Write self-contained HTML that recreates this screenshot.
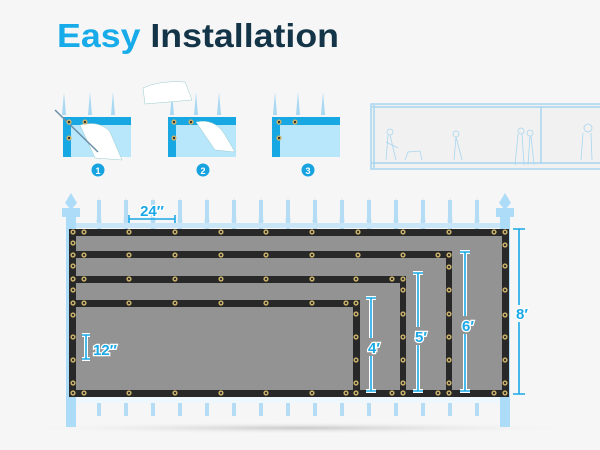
<!DOCTYPE html>
<html><head><meta charset="utf-8"><style>
html,body{margin:0;padding:0;background:#f6f6f6;width:600px;height:450px;overflow:hidden}
svg{display:block}
</style></head><body>
<svg width="600" height="450" viewBox="0 0 600 450" xmlns="http://www.w3.org/2000/svg">
<defs>
<g id="gr"><circle r="2.6" fill="#c9b06a"/><circle r="1.1" fill="#2a2a2a"/></g>
<g id="pk"><polygon points="-2.5,222 0,197 2.5,222" fill="#b5dcf5"/></g>
<radialGradient id="sh" cx="0.5" cy="0.5" r="0.5"><stop offset="0" stop-color="#c8c8c8"/><stop offset="1" stop-color="#f6f6f6" stop-opacity="0"/></radialGradient>
</defs>
<rect width="600" height="450" fill="#f6f6f6"/>
<text x="57" y="47" font-family="Liberation Sans, sans-serif" font-weight="bold" font-size="33" textLength="282" lengthAdjust="spacingAndGlyphs"><tspan fill="#17ace9">Easy</tspan><tspan fill="#143548"> Installation</tspan></text>

<!-- step icons -->
<g>
 <g fill="#a9d8f3"><polygon points="88,115 90,92 92,115"/><polygon points="62,115 64,92 66,115"/><polygon points="111,115 113,92 115,115"/></g>
 <rect x="63" y="117" width="68" height="40" fill="#b8e6fb"/><rect x="63" y="117" width="68" height="8" fill="#17a7e3"/><rect x="63" y="117" width="8" height="40" fill="#17a7e3"/>
 <path d="M80,125 Q100,120 110,132 L122,160 L95,158 Z" fill="#fff" stroke="#9cc" stroke-width=".5"/>
 <line x1="55" y1="110" x2="98" y2="152" stroke="#6b8fa8" stroke-width="1.5"/>
 <use href="#gr" x="69" y="122"/><use href="#gr" x="85" y="122"/><use href="#gr" x="69" y="138"/>
 <circle cx="98" cy="170" r="6.5" fill="#17a3e0"/><text x="98" y="174" font-family="Liberation Sans" font-weight="bold" font-size="9" fill="#fff" text-anchor="middle">1</text>
</g>
<g>
 <g fill="#a9d8f3"><polygon points="170,115 172,92 174,115"/><polygon points="194,115 196,92 198,115"/><polygon points="217,115 219,92 221,115"/></g>
 <rect x="168" y="117" width="68" height="40" fill="#b8e6fb"/><rect x="168" y="117" width="68" height="8" fill="#17a7e3"/><rect x="168" y="117" width="8" height="40" fill="#17a7e3"/>
 <path d="M143,88 Q160,80 185,82 L192,100 L145,104 Z" fill="#fff" stroke="#9cc" stroke-width=".5"/>
 <path d="M196,122 Q215,118 225,135 L235,152 L215,150 Z" fill="#fff" stroke="#9cc" stroke-width=".5"/>
 <use href="#gr" x="174" y="122"/><use href="#gr" x="191" y="122"/><use href="#gr" x="174" y="138"/>
 <circle cx="203" cy="170" r="6.5" fill="#17a3e0"/><text x="203" y="174" font-family="Liberation Sans" font-weight="bold" font-size="9" fill="#fff" text-anchor="middle">2</text>
</g>
<g>
 <g fill="#a9d8f3"><polygon points="273,115 275,92 277,115"/><polygon points="296,115 298,92 300,115"/><polygon points="321,115 323,92 325,115"/></g>
 <rect x="272" y="117" width="68" height="40" fill="#b8e6fb"/><rect x="272" y="117" width="68" height="8" fill="#17a7e3"/><rect x="272" y="117" width="8" height="40" fill="#17a7e3"/>
 <use href="#gr" x="279" y="122"/><use href="#gr" x="295" y="122"/><use href="#gr" x="279" y="138"/>
 <circle cx="308" cy="170" r="6.5" fill="#17a3e0"/><text x="308" y="174" font-family="Liberation Sans" font-weight="bold" font-size="9" fill="#fff" text-anchor="middle">3</text>
</g>
<!-- sketch photo -->
<g fill="none" stroke="#a8d6f0" stroke-width="1.5">
 <rect x="371" y="104" width="240" height="65" fill="#f1f1f1"/>
 <line x1="371" y1="107" x2="600" y2="107"/><line x1="371" y1="163" x2="600" y2="163"/>
 <line x1="541" y1="106" x2="541" y2="164"/><line x1="374" y1="105" x2="374" y2="168"/>
 <g stroke-width="0.8"><circle cx="390" cy="132" r="3"/><path d="M388,135 L386,160 M390,135 L396,160 M386,142 L398,148"/>
 <path d="M405,160 L408,152 L420,151 L422,160"/><circle cx="456" cy="134" r="3"/><path d="M456,137 L454,160 M456,137 L462,160"/>
 <circle cx="521" cy="131" r="3"/><path d="M518,134 L515,165 M522,134 L524,165"/><circle cx="530" cy="133" r="3"/><path d="M530,136 L528,165 M531,136 L534,165"/>
 <circle cx="588" cy="128" r="4"/><path d="M583,133 L581,160 M591,133 L592,160"/></g>
</g>

<!-- shadow -->
<ellipse cx="300" cy="428" rx="290" ry="6" fill="url(#sh)"/>
<!-- fence -->
<g fill="#b5dcf5">
 <rect x="97" y="200" width="4" height="216"/><rect x="124" y="200" width="4" height="216"/><rect x="151" y="200" width="4" height="216"/><rect x="178" y="200" width="4" height="216"/><rect x="205" y="200" width="4" height="216"/><rect x="232" y="200" width="4" height="216"/><rect x="259" y="200" width="4" height="216"/><rect x="286" y="200" width="4" height="216"/><rect x="313" y="200" width="4" height="216"/><rect x="340" y="200" width="4" height="216"/><rect x="367" y="200" width="4" height="216"/><rect x="394" y="200" width="4" height="216"/><rect x="421" y="200" width="4" height="216"/><rect x="448" y="200" width="4" height="216"/><rect x="475" y="200" width="4" height="216"/>
</g>
<g><use href="#pk" x="99"/><use href="#pk" x="126"/><use href="#pk" x="153"/><use href="#pk" x="180"/><use href="#pk" x="207"/><use href="#pk" x="234"/><use href="#pk" x="261"/><use href="#pk" x="288"/><use href="#pk" x="315"/><use href="#pk" x="342"/><use href="#pk" x="369"/><use href="#pk" x="396"/><use href="#pk" x="423"/><use href="#pk" x="450"/><use href="#pk" x="477"/></g>
<rect x="66" y="223" width="444" height="5" fill="#c9e6f8"/>
<rect x="66" y="397" width="444" height="6" fill="#eef7fd"/>
<g fill="#addcf8">
 <rect x="66" y="217" width="10" height="210"/><rect x="62" y="208" width="18" height="9"/><polygon points="71,193 77,203 71,210 65,203"/>
 <rect x="500" y="217" width="10" height="210"/><rect x="496" y="208" width="18" height="9"/><polygon points="505,193 511,203 505,210 499,203"/>
</g>

<!-- screens -->
<rect x="69" y="229" width="440" height="168" fill="#282828"/>
<rect x="76" y="236" width="426" height="154" fill="#939393"/>
<g fill="#282828">
 <rect x="69" y="251" width="383" height="7"/><rect x="446" y="251" width="6" height="146"/>
 <rect x="69" y="276" width="337" height="7"/><rect x="400" y="276" width="6" height="121"/>
 <rect x="69" y="300" width="291" height="7"/><rect x="353" y="300" width="7" height="97"/>
</g>
<g>
 <!-- top -->
 <use href="#gr" x="73" y="232"/><use href="#gr" x="84" y="232"/><use href="#gr" x="129" y="232"/><use href="#gr" x="175" y="232"/><use href="#gr" x="221" y="232"/><use href="#gr" x="266" y="232"/><use href="#gr" x="312" y="232"/><use href="#gr" x="358" y="232"/><use href="#gr" x="403" y="232"/><use href="#gr" x="449" y="232"/><use href="#gr" x="494" y="232"/><use href="#gr" x="505" y="232"/>
 <use href="#gr" x="73" y="255"/><use href="#gr" x="84" y="255"/><use href="#gr" x="129" y="255"/><use href="#gr" x="175" y="255"/><use href="#gr" x="221" y="255"/><use href="#gr" x="266" y="255"/><use href="#gr" x="312" y="255"/><use href="#gr" x="358" y="255"/><use href="#gr" x="403" y="255"/><use href="#gr" x="438" y="255"/><use href="#gr" x="449" y="255"/>
 <use href="#gr" x="73" y="279"/><use href="#gr" x="84" y="279"/><use href="#gr" x="129" y="279"/><use href="#gr" x="175" y="279"/><use href="#gr" x="221" y="279"/><use href="#gr" x="266" y="279"/><use href="#gr" x="312" y="279"/><use href="#gr" x="356" y="279"/><use href="#gr" x="392" y="279"/><use href="#gr" x="403" y="279"/>
 <use href="#gr" x="73" y="303"/><use href="#gr" x="84" y="303"/><use href="#gr" x="129" y="303"/><use href="#gr" x="175" y="303"/><use href="#gr" x="221" y="303"/><use href="#gr" x="266" y="303"/><use href="#gr" x="312" y="303"/><use href="#gr" x="346" y="303"/><use href="#gr" x="356" y="303"/>
 <!-- left -->
 <use href="#gr" x="73" y="243"/><use href="#gr" x="73" y="266"/><use href="#gr" x="73" y="290"/><use href="#gr" x="73" y="315"/><use href="#gr" x="73" y="337"/><use href="#gr" x="73" y="360"/><use href="#gr" x="73" y="383"/>
 <!-- bottom -->
 <use href="#gr" x="73" y="393"/><use href="#gr" x="84" y="393"/><use href="#gr" x="129" y="393"/><use href="#gr" x="175" y="393"/><use href="#gr" x="221" y="393"/><use href="#gr" x="266" y="393"/><use href="#gr" x="312" y="393"/><use href="#gr" x="346" y="393"/><use href="#gr" x="356" y="393"/><use href="#gr" x="392" y="393"/><use href="#gr" x="403" y="393"/><use href="#gr" x="438" y="393"/><use href="#gr" x="449" y="393"/><use href="#gr" x="494" y="393"/><use href="#gr" x="505" y="393"/>
 <!-- rights -->
 <use href="#gr" x="505" y="245"/><use href="#gr" x="505" y="266"/><use href="#gr" x="505" y="290"/><use href="#gr" x="505" y="315"/><use href="#gr" x="505" y="337"/><use href="#gr" x="505" y="360"/><use href="#gr" x="505" y="383"/>
 <use href="#gr" x="449" y="267"/><use href="#gr" x="449" y="290"/><use href="#gr" x="449" y="314"/><use href="#gr" x="449" y="337"/><use href="#gr" x="449" y="360"/><use href="#gr" x="449" y="383"/>
 <use href="#gr" x="403" y="290"/><use href="#gr" x="403" y="314"/><use href="#gr" x="403" y="337"/><use href="#gr" x="403" y="360"/><use href="#gr" x="403" y="383"/>
 <use href="#gr" x="356" y="314"/><use href="#gr" x="356" y="337"/><use href="#gr" x="356" y="360"/><use href="#gr" x="356" y="383"/>
</g>

<!-- measurements -->
<g stroke="#1aa8e6" stroke-width="1.6" fill="none">
 <path d="M129,215 V223 M175,215 V223 M129,219 H175"/>
 <path d="M513,229 H525 M513,394 H525 M519,229 V305 M519,322 V394"/>
</g>
<g stroke="#fff" stroke-width="4" fill="none">
 <path d="M371,298 V338 M371,356 V391 M366,298 H376 M366,391 H376"/>
 <path d="M418,273 V327 M418,345 V391 M413,273 H423 M413,391 H423"/>
 <path d="M465,252 V316 M465,334 V391 M460,252 H470 M460,391 H470"/>
 <path d="M86,335 V359 M82,335 H90 M82,359 H90"/>
</g>
<g stroke="#1aa8e6" stroke-width="1.6" fill="none">
 <path d="M371,298 V338 M371,356 V391 M366,298 H376 M366,391 H376"/>
 <path d="M418,273 V327 M418,345 V391 M413,273 H423 M413,391 H423"/>
 <path d="M465,252 V316 M465,334 V391 M460,252 H470 M460,391 H470"/>
 <path d="M86,335 V359 M82,335 H90 M82,359 H90"/>
</g>
<g font-family="Liberation Sans, sans-serif" font-weight="bold" font-size="15" fill="#1aa8e6" stroke="#fff" stroke-width="2.5" paint-order="stroke" text-anchor="middle">
 <text x="152" y="216">24″</text>
 <text x="522" y="319">8′</text>
 <text x="468" y="331">6′</text>
 <text x="421" y="342">5′</text>
 <text x="374" y="353">4′</text>
 <text x="105" y="355">12″</text>
</g>
</svg>
</body></html>
